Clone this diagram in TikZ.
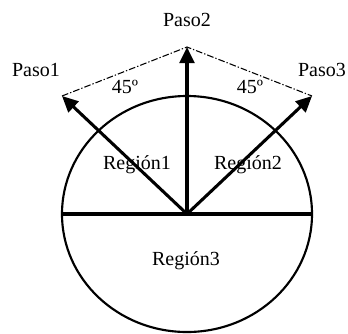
\documentclass[tikz,border=0pt]{standalone}
\usepackage{fontspec}
\setmainfont{Liberation Serif}
\usetikzlibrary{arrows.meta}
\begin{document}
\begin{tikzpicture}[x=0.75pt,y=-0.75pt,
	paso/.style={line width=2.3pt,-{Triangle[length=12pt,width=11pt]}},
	guia/.style={line width=0.8pt,dash pattern=on 5pt off 1.5pt on 1pt off 1.5pt},
	etiqueta/.style={font=\fontsize{15}{18}\selectfont,inner sep=0pt}]
				\useasboundingbox (0,0) rectangle (348,333);
				% circle and divisions
				\coordinate (O) at (187,214);
				\draw[line width=1.6pt] (O) ellipse (125 and 118);
				\coordinate (izq) at (62,214);
				\coordinate (der) at (312,214);
				\draw[line width=2.3pt] (izq) -- (der);
				% tips of the steps
				\coordinate (p1) at (62,96);
				\coordinate (p2) at (187,47);
				\coordinate (p3) at (312,96);
				\draw[guia] (p1) -- (p2) -- (p3);
				% labels
				\node[etiqueta] (t2) at (187,20) {Paso2};
				\node[etiqueta] (t1) at (36,70) {Paso1};
				\node[etiqueta] (t3) at (322,70) {Paso3};
				\node[etiqueta] (a1) at (125,87) {45º};
				\node[etiqueta] (a2) at (250,87) {45º};
				\node[etiqueta] (r1) at (137,165) {Región1};
				\node[etiqueta] (r2) at (248,165) {Región2};
				\node[etiqueta] (r3) at (186,261) {Región3};
				% arrows
				\draw[paso] (O) -- (p1);
				\draw[paso] (O) -- (p2);
				\draw[paso] (O) -- (p3);
\end{tikzpicture}
\end{document}
